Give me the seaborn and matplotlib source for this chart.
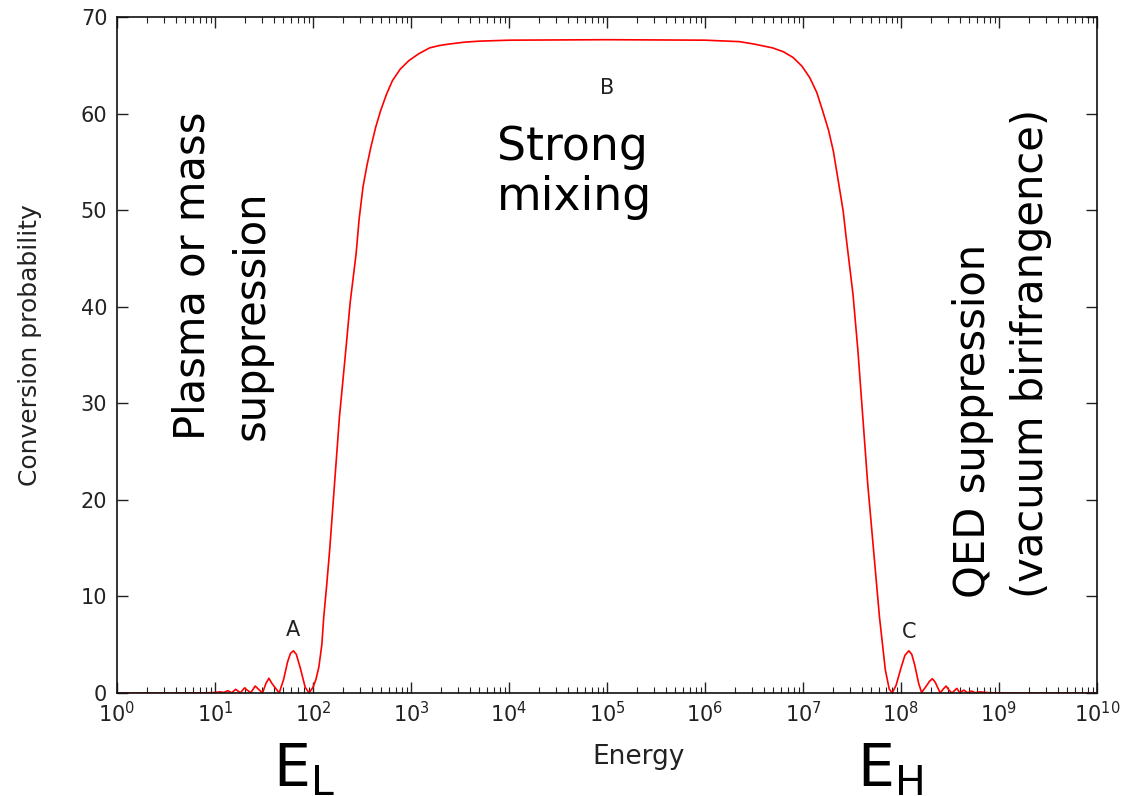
import numpy as np
import pandas as pd
import matplotlib
matplotlib.use("Agg")
import matplotlib.pyplot as plt
from matplotlib.ticker import LogLocator, FixedLocator
import seaborn as sns

# Conversion probability versus energy (log10 of energy, probability)
log_energy = [
    0.00, 0.50, 0.90, 1.00, 1.05, 1.09, 1.13, 1.17, 1.21, 1.26, 1.30, 1.365,
    1.41, 1.485, 1.52, 1.55, 1.58, 1.655, 1.70, 1.74, 1.77, 1.80, 1.83, 1.87,
    1.92, 1.96, 2.00, 2.03, 2.06, 2.09, 2.11, 2.14, 2.17, 2.22, 2.27, 2.33,
    2.38, 2.44, 2.47, 2.51, 2.55, 2.59, 2.64, 2.69, 2.75, 2.81, 2.89, 2.98,
    3.08, 3.19, 3.29, 3.39, 3.55, 3.70, 4.00, 5.00, 6.00, 6.35, 6.50, 6.69,
    6.80, 6.90, 6.99, 7.07, 7.14, 7.20, 7.26, 7.31, 7.37, 7.41, 7.44, 7.51,
    7.56, 7.61, 7.66, 7.72, 7.78, 7.84, 7.88, 7.91, 7.95, 8.00, 8.04, 8.08,
    8.11, 8.14, 8.18, 8.21, 8.25, 8.29, 8.32, 8.35, 8.40, 8.43, 8.46, 8.49,
    8.52, 8.57, 8.60, 8.64, 8.68, 8.72, 8.76, 8.80, 8.90, 9.20, 10.00,
]
probability = [
    0.00, 0.00, 0.02, 0.05, 0.12, 0.05, 0.24, 0.02, 0.38, 0.02, 0.52, 0.02,
    0.72, 0.00, 1.00, 1.52, 1.00, 0.00, 1.40, 3.20, 4.10, 4.37, 4.00, 2.60,
    0.60, 0.00, 0.60, 1.40, 2.70, 5.00, 7.90, 11.2, 14.8, 21.7, 28.6, 35.0,
    40.5, 45.5, 49.0, 52.4, 54.6, 56.5, 58.6, 60.3, 62.0, 63.4, 64.6, 65.5,
    66.2, 66.8, 67.05, 67.2, 67.4, 67.5, 67.6, 67.65, 67.6, 67.45, 67.2, 66.8,
    66.4, 65.8, 64.9, 63.7, 62.2, 60.3, 58.3, 56.1, 52.4, 49.9, 47.2, 41.3,
    35.5, 28.6, 21.7, 14.8, 7.90, 2.40, 0.40, 0.00, 0.80, 2.60, 3.90, 4.37,
    4.00, 2.90, 1.00, 0.05, 0.60, 1.20, 1.48, 1.10, 0.00, 0.40, 0.72, 0.30,
    0.00, 0.48, 0.02, 0.30, 0.02, 0.20, 0.02, 0.12, 0.03, 0.00, 0.00,
]

# Point labels on the curve
point_names = ["A", "B", "C"]
point_log_energy = [1.80, 5.00, 8.08]
point_prob = [6.5, 62.6, 6.3]

y_ticks = [0, 10, 20, 30, 40, 50, 60, 70]

sns.set_style("ticks")
plt.rcParams["font.family"] = ["DejaVu Sans"]
plt.rcParams["mathtext.default"] = "regular"

df = pd.DataFrame({"Energy": np.power(10.0, log_energy),
                   "Conversion probability": probability})

fig = plt.figure(figsize=(11.27, 7.96), dpi=100)
ax = fig.add_axes([117 / 1127, 1 - 693 / 796, 980 / 1127, 676 / 796])

sns.lineplot(data=df, x="Energy", y="Conversion probability", ax=ax,
             color="#ff0000", linewidth=1.2, sort=False, estimator=None)

ax.set_xscale("log")
ax.set_xlim(1, 1e10)
ax.set_ylim(0, 70)
ax.xaxis.set_major_locator(LogLocator(base=10, numticks=20))
ax.xaxis.set_minor_locator(LogLocator(base=10, subs=np.arange(2, 10), numticks=200))
ax.yaxis.set_major_locator(FixedLocator(y_ticks))

for side in ["left", "right", "top", "bottom"]:
    ax.spines[side].set_visible(True)
    ax.spines[side].set_color("#111111")
    ax.spines[side].set_linewidth(1.2)

ax.tick_params(which="both", direction="in", top=True, right=True, colors="#222222")
ax.tick_params(which="major", length=8, width=1.0, labelsize=15, pad=7)
ax.tick_params(which="minor", length=4, width=0.8)
ax.tick_params(axis="x", which="major", pad=6)

ax.set_xlabel("Energy", fontsize=19, color="#222222")
ax.set_ylabel("Conversion probability", fontsize=18, color="#222222")
ax.xaxis.set_label_coords(0.532, -0.095)
ax.xaxis.label.set_va("center")
ax.yaxis.set_label_coords(-0.089, 0.515)
ax.yaxis.label.set_va("center")

for name, le, p in zip(point_names, point_log_energy, point_prob):
    ax.text(10 ** le, p, name, fontsize=15, ha="center", va="center", color="#222222")

# Region annotations
ax.text(10 ** 3.88, 53.9, "Strong\nmixing", fontsize=33, ha="left", va="center",
        multialignment="left", linespacing=1.15, color="black")
fig.text(222 / 1127, 1 - 440 / 796, "Plasma or mass\nsuppression", fontsize=30,
         rotation=90, ha="center", va="bottom", multialignment="left",
         linespacing=1.5, color="black")
fig.text(1002 / 1127, 1 - 598 / 796, "QED suppression\n(vacuum birifrangence)",
         fontsize=30, rotation=90, ha="center", va="bottom",
         multialignment="left", linespacing=1.5, color="black")
fig.text(304 / 1127, 1 - 786 / 796, r"$\mathregular{E_L}$", fontsize=42,
         ha="center", va="baseline", color="black")
fig.text(890 / 1127, 1 - 786 / 796, r"$\mathregular{E_H}$", fontsize=42,
         ha="center", va="baseline", color="black")

fig.savefig("out.png", dpi=100)
